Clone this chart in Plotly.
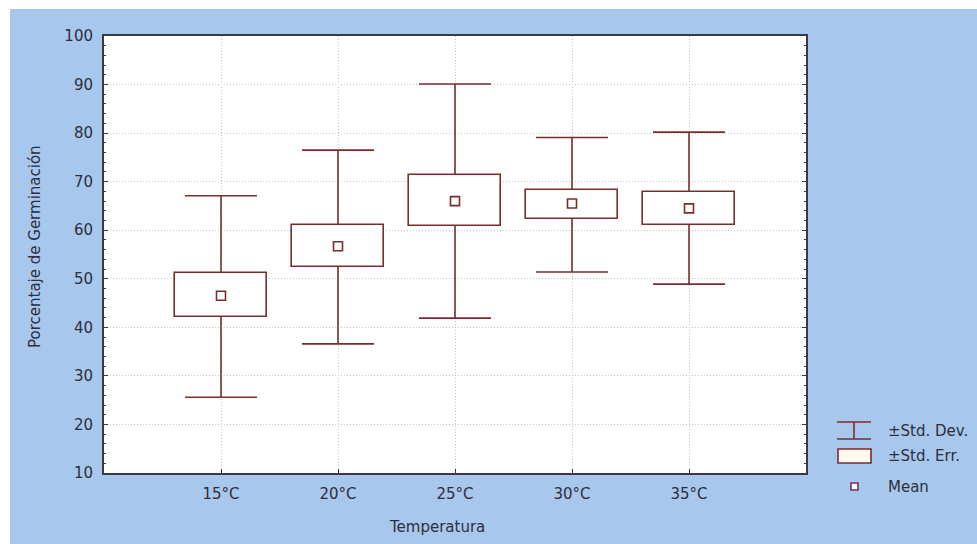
import plotly.graph_objects as go

# ---- data ----
categories = ["15°C", "20°C", "25°C", "30°C", "35°C"]
mean_vals = [46.5, 56.7, 66.0, 65.5, 64.5]
se_low = [42.2, 52.4, 60.9, 62.4, 61.1]
se_high = [51.1, 61.1, 71.4, 68.3, 67.9]
sd_low = [25.6, 36.6, 41.9, 51.4, 48.9]
sd_high = [67.1, 76.5, 90.1, 79.1, 80.2]
y_ticks = [10, 20, 30, 40, 50, 60, 70, 80, 90, 100]

# ---- style ----
W, H = 977, 544
ML, MR, MT, MB = 104, 171, 36, 71
PW, PH = W - ML - MR, H - MT - MB
BG_BLUE = "#a7c7ed"
LINE = "#7b2d2d"
TXT = "#2e2e3c"
FONT = "DejaVu Sans"
AX = "#3a3a44"


def px(x):
    return (x - ML) / PW


def py(y):
    return (H - MB - y) / PH


fig = go.Figure()

# whiskers (± std. dev.), drawn on the base subplot
fig.add_trace(go.Scatter(
    x=categories, y=mean_vals, mode="markers",
    marker=dict(size=1, opacity=0),
    error_y=dict(type="data", symmetric=False,
                 array=[h - m for h, m in zip(sd_high, mean_vals)],
                 arrayminus=[m - l for m, l in zip(mean_vals, sd_low)],
                 color=LINE, thickness=1.6, width=36),
    showlegend=False, hoverinfo="skip",
))

# boxes (± std. err.) on overlay subplot so they cover the whisker line
fig.add_trace(go.Bar(
    x=categories,
    y=[h - l for h, l in zip(se_high, se_low)],
    base=se_low,
    width=0.786,
    marker=dict(color="white", line=dict(color=LINE, width=1.6)),
    xaxis="x2", yaxis="y2",
    showlegend=False, hoverinfo="skip",
))
# means
fig.add_trace(go.Scatter(
    x=categories, y=mean_vals, mode="markers",
    marker=dict(symbol="square", size=9, color="white",
                line=dict(color=LINE, width=1.6)),
    xaxis="x2", yaxis="y2",
    showlegend=False,
))

shapes = [
    # white strips around the blue background
    dict(type="rect", xref="paper", yref="paper", layer="below",
         x0=px(0), x1=px(10), y0=py(H), y1=py(0),
         fillcolor="white", line=dict(width=0)),
    dict(type="rect", xref="paper", yref="paper", layer="below",
         x0=px(0), x1=px(W), y0=py(9), y1=py(0),
         fillcolor="white", line=dict(width=0)),
    # legend: std dev glyph
    dict(type="line", xref="paper", yref="paper", x0=px(837), x1=px(871),
         y0=py(422), y1=py(422), line=dict(color=LINE, width=1.6)),
    dict(type="line", xref="paper", yref="paper", x0=px(837), x1=px(871),
         y0=py(439), y1=py(439), line=dict(color=LINE, width=1.6)),
    dict(type="line", xref="paper", yref="paper", x0=px(854), x1=px(854),
         y0=py(422), y1=py(439), line=dict(color=LINE, width=1.6)),
    # legend: std err glyph
    dict(type="rect", xref="paper", yref="paper", x0=px(838), x1=px(871),
         y0=py(463), y1=py(449), fillcolor="#fff8ee",
         line=dict(color=LINE, width=1.6)),
    # legend: mean glyph
    dict(type="rect", xref="paper", yref="paper", x0=px(851), x1=px(858),
         y0=py(490), y1=py(483), fillcolor="white",
         line=dict(color="#7b2d55", width=1.6)),
]

annotations = [
    dict(text="±Std. Dev.", x=px(886), y=py(431), xref="paper", yref="paper",
         xanchor="left", yanchor="middle", showarrow=False,
         font=dict(family=FONT, size=15, color=TXT)),
    dict(text="±Std. Err.", x=px(886), y=py(456), xref="paper", yref="paper",
         xanchor="left", yanchor="middle", showarrow=False,
         font=dict(family=FONT, size=15, color=TXT)),
    dict(text="Mean", x=px(886), y=py(487), xref="paper", yref="paper",
         xanchor="left", yanchor="middle", showarrow=False,
         font=dict(family=FONT, size=15, color=TXT)),
    dict(text="Porcentaje de Germinación", x=px(35), y=py(247),
         xref="paper", yref="paper", textangle=-90,
         xanchor="center", yanchor="middle", showarrow=False,
         font=dict(family=FONT, size=15, color=TXT)),
    dict(text="Temperatura", x=px(437), y=py(527),
         xref="paper", yref="paper",
         xanchor="center", yanchor="middle", showarrow=False,
         font=dict(family=FONT, size=15, color=TXT)),
]

xr = [-1, len(categories)]
yr = [10, 100]

fig.update_layout(
    width=W, height=H,
    margin=dict(l=ML, r=MR, t=MT, b=MB, pad=0),
    paper_bgcolor=BG_BLUE,
    plot_bgcolor="white",
    font=dict(family=FONT, size=15, color=TXT),
    shapes=shapes,
    annotations=annotations,
    showlegend=False,
    bargap=0,
    xaxis=dict(
        type="category", range=xr,
        categoryorder="array", categoryarray=categories,
        showline=True, linecolor=AX, linewidth=2, mirror=True,
        ticks="inside", ticklen=4, tickcolor=AX,
        showgrid=True, gridcolor="#c4c4c4", griddash="1px,2px", gridwidth=1,
        tickfont=dict(family=FONT, size=15, color=TXT),
        ticklabelstandoff=6, zeroline=False,
    ),
    yaxis=dict(
        range=yr, tickvals=y_ticks,
        showline=True, linecolor=AX, linewidth=2, mirror="ticks",
        ticks="inside", ticklen=4, tickcolor=AX,
        minor=dict(dtick=2, ticks="inside", ticklen=2, tickcolor=AX,
                   showgrid=False),
        showgrid=True, gridcolor="#c4c4c4", griddash="1px,2px", gridwidth=1,
        tickfont=dict(family=FONT, size=15, color=TXT),
        ticklabelstandoff=6, zeroline=False,
    ),
    xaxis2=dict(
        type="category", range=xr, overlaying="x",
        categoryorder="array", categoryarray=categories,
        showgrid=False, showline=False, showticklabels=False,
        ticks="", zeroline=False,
    ),
    yaxis2=dict(
        range=yr, overlaying="y",
        showgrid=False, showline=False, showticklabels=False,
        ticks="", zeroline=False,
    ),
)

fig.write_html("out.html")
